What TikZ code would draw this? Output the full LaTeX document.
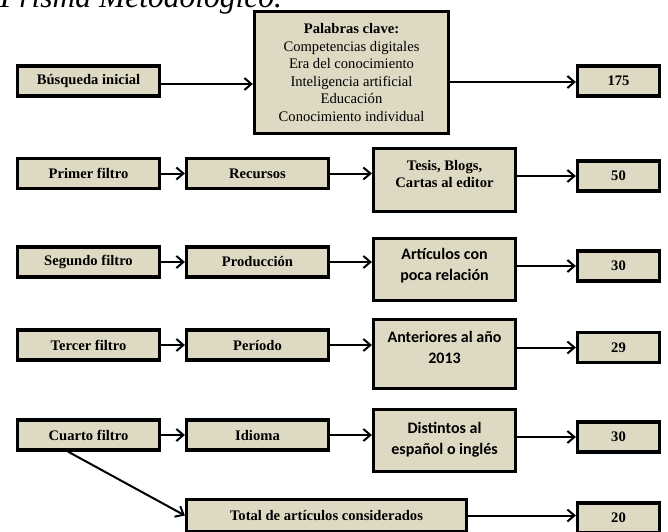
\documentclass[tikz,border=0pt]{standalone}
\usepackage{fontspec}
\setmainfont{Liberation Serif}
\newfontfamily\calibri{Carlito}
\usetikzlibrary{arrows.meta}
\definecolor{fondo}{RGB}{221,217,195}

\begin{document}
\begin{tikzpicture}[x=1pt, y=-1pt, >={Straight Barb[length=7pt,width=12pt]}, node distance=169pt,
    caja/.style={draw, line width=3.2pt, fill=fondo, minimum width=142pt, minimum height=30pt, inner sep=2pt, align=center, font=\bfseries\fontsize{14.6}{17.6}\selectfont},
    caja num/.style={caja, minimum width=82pt},
    texto alto/.style={inner sep=0pt, align=center, font=\calibri\bfseries\fontsize{16}{21}\selectfont},
    titulo/.style={anchor=base west, inner sep=0pt, font=\itshape\fontsize{31.5}{38}\selectfont}]
                \useasboundingbox (0,0) rectangle (668,531);
                \node[titulo] (tit) at (0,7.5) {Prisma Metodológico.};

                \node[caja] (busq) at (88.5,81) {Búsqueda inicial};
                \node[caja, minimum width=194pt, minimum height=122pt, font=\fontsize{14.6}{17.6}\selectfont] (clave) at (351.5,72.5)
                    {\textbf{Palabras clave:}\\Competencias digitales\\Era del conocimiento\\Inteligencia artificial\\Educación\\Conocimiento individual};
                \node[caja num] (n175) at (618.5,81) {175};

                \node[caja] (f1) at (88.5,173.5) {Primer filtro};
                \node[caja] (rec) [right of = f1] {Recursos};
                \node[caja, minimum height=63pt] (tesis) [right of = rec, xshift=18, yshift=-6.5] {};
                \node[texto alto, font=\bfseries\fontsize{14.6}{17.6}\selectfont] (tesis txt) [above of = tesis, node distance=6pt] {Tesis, Blogs,\\Cartas al editor};
                \node[caja num] (n50) [right of = tesis, xshift=5, yshift=4] {50};

                \node[caja] (f2) at (88.5,262) {Segundo filtro};
                \node[caja] (prod) [right of = f2] {Producción};
                \node[caja, minimum height=62pt] (art) [right of = prod, xshift=18, yshift=-7.5] {};
                \node[texto alto] (art txt) [above of = art, node distance=3.5pt] {Artículos con\\poca relación};
                \node[caja num] (n30a) [right of = art, xshift=5, yshift=3.5] {30};

                \node[caja] (f3) at (88.5,345) {Tercer filtro};
                \node[caja] (per) [right of = f3] {Período};
                \node[caja, minimum height=69pt] (ant) [right of = per, xshift=18, yshift=-9] {};
                \node[texto alto] (ant txt) [above of = ant, node distance=6.5pt] {Anteriores al año\\2013};
                \node[caja num] (n29) [right of = ant, xshift=5, yshift=6.5] {29};

                \node[caja] (f4) at (88.5,435) {Cuarto filtro};
                \node[caja] (idi) [right of = f4] {Idioma};
                \node[caja, minimum height=62pt] (dist) [right of = idi, xshift=18, yshift=-5.5] {};
                \node[texto alto] (dist txt) [above of = dist, node distance=1pt] {Distintos al\\español o inglés};
                \node[caja num] (n30b) [right of = dist, xshift=5, yshift=3.5] {30};

                \node[caja, minimum width=280pt, minimum height=32pt] (total) at (326.5,515.5) {Total de artículos considerados};
                \node[caja num] (n20) at (618.5,518) {20};

                \path[->, line width=2pt]
                    ([yshift=-3pt]busq.east) edge ([yshift=-3pt]busq.east -| clave.west)
                    ([yshift=-1pt]n175.west -| clave.east) edge ([yshift=-1pt]n175.west)

                    (f1) edge (rec)
                    (rec.east) edge (rec.east -| tesis.west)
                    (n50.west -| tesis.east) edge (n50.west)

                    (f2) edge (prod)
                    (prod.east) edge (prod.east -| art.west)
                    (n30a.west -| art.east) edge (n30a.west)

                    (f3) edge (per)
                    (per.east) edge (per.east -| ant.west)
                    (n29.west -| ant.east) edge (n29.west)

                    (f4) edge (idi)
                    (idi.east) edge (idi.east -| dist.west)
                    (n30b.west -| dist.east) edge (n30b.west)

                    ([xshift=-20.5pt]f4.south) edge (total.west)
                    (total.east) edge (total.east -| n20.west)
                ;
            \end{tikzpicture}
\end{document}
